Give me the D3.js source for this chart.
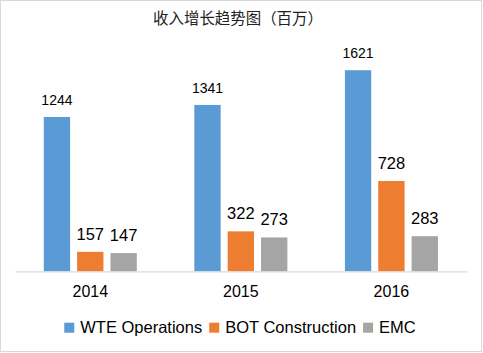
<!DOCTYPE html>
<html><head><meta charset="utf-8">
<script src="https://cdn.jsdelivr.net/npm/d3@7/dist/d3.min.js"></script>
<style>
html,body{margin:0;padding:0;background:#fff;}
svg{display:block;}
</style>
</head><body>
<svg id="chart" width="483" height="353"></svg>
<script>
const title = "收入增长趋势图（百万）";
const categories = ["2014", "2015", "2016"];
const seriesNames = ["WTE Operations", "BOT Construction", "EMC"];
const wteValues = [1244, 1341, 1621];
const botValues = [157, 322, 728];
const emcValues = [147, 273, 283];
const colors = ["#5B9BD5", "#ED7D31", "#A5A5A5"];

const allSeries = [wteValues, botValues, emcValues];
const data = categories.map((c, i) => ({cat: c, vals: allSeries.map((s, j) => ({name: seriesNames[j], v: s[i], j}))}));

const svg = d3.select("#chart");
const latin = "'Liberation Sans', Arial, sans-serif";

svg.append("rect").attr("x", 0.5).attr("y", 0.5).attr("width", 481).attr("height", 351)
  .attr("fill", "#fff").attr("stroke", "#d9d9d9").attr("stroke-width", 1);

const x0 = d3.scaleBand().domain(categories).range([15, 466.7]).paddingInner(0.382).paddingOuter(0.191);
const x1 = d3.scaleBand().domain(d3.range(3)).range([0, x0.bandwidth()]).paddingInner(0.21).paddingOuter(0);
const y = d3.scaleLinear().domain([0, 1800]).range([271.3, 48]);

const tt = svg.append("text").attr("x", 238).attr("y", 24).attr("text-anchor", "middle")
  .attr("font-family", "'Noto Sans CJK SC', sans-serif").attr("font-size", 16.5).attr("fill", "#222")
  .text(title);
const tw = tt.node().getComputedTextLength();
if (tw > 0) tt.attr("font-size", Math.max(14, Math.min(18, 16.5 * 170 / tw)));

const g = svg.selectAll("g.cat").data(data).join("g").attr("class", "cat")
  .attr("transform", d => `translate(${x0(d.cat)},0)`);

g.selectAll("rect").data(d => d.vals).join("rect")
  .attr("x", d => x1(d.j)).attr("width", x1.bandwidth())
  .attr("y", d => y(d.v)).attr("height", d => y(0) - y(d.v))
  .attr("fill", d => colors[d.j]);

g.selectAll("text.val").data(d => d.vals).join("text").attr("class", "val")
  .attr("x", d => x1(d.j) + x1.bandwidth() / 2).attr("y", d => y(d.v) - 12)
  .attr("text-anchor", "middle").attr("font-family", latin)
  .attr("font-size", d => d.j === 0 ? 14 : 16.5).attr("fill", "#000")
  .text(d => d.v);

const xAxis = d3.axisBottom(x0).tickSize(0).tickPadding(0);
const ax = svg.append("g").attr("transform", `translate(0,${y(0)})`).call(xAxis);
ax.select(".domain").attr("stroke", "#d9d9d9").attr("stroke-width", 1.3);
ax.selectAll(".tick text").attr("font-family", latin).attr("font-size", 16).attr("fill", "#000")
  .attr("dy", 0).attr("y", 25.4);

const leg = svg.append("g");
let cx = 0;
seriesNames.forEach((n, i) => {
  const it = leg.append("g");
  it.append("rect").attr("x", 0).attr("y", -10).attr("width", 10).attr("height", 10).attr("fill", colors[i]);
  const t = it.append("text").attr("x", 16).attr("y", 0).attr("font-family", latin).attr("font-size", 16.5).attr("fill", "#000").text(n);
  const w = t.node().getComputedTextLength();
  it.attr("transform", `translate(${cx},0)`);
  cx += 16 + w + 7;
});
const total = cx - 7;
leg.attr("transform", `translate(${240 - total / 2},332.7)`);
</script>
</body></html>
